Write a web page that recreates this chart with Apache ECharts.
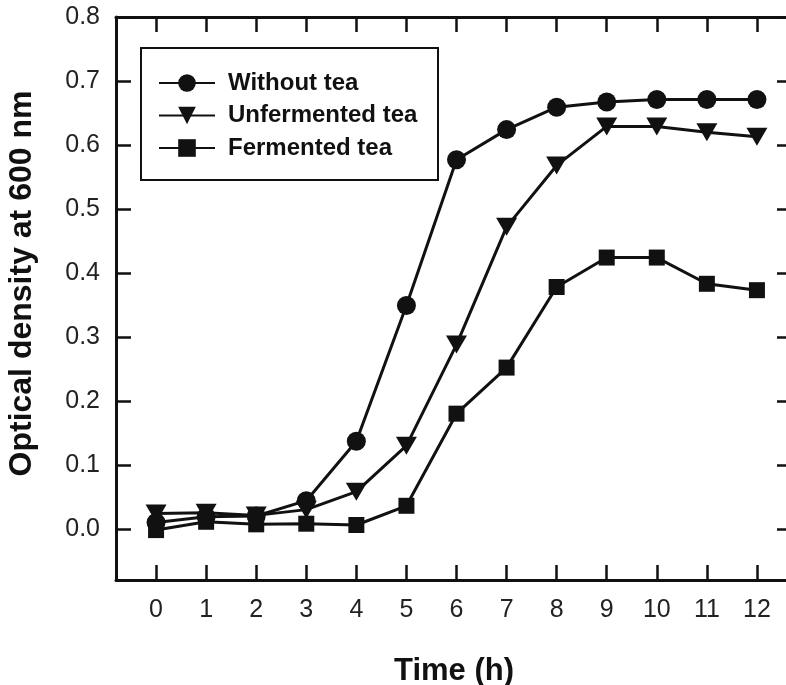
<!DOCTYPE html>
<html>
<head>
<meta charset="utf-8">
<script src="https://cdn.jsdelivr.net/npm/echarts@6/dist/echarts.min.js"></script>
<style>
  html, body { margin: 0; padding: 0; background: #fff; }
  #chart { width: 786px; height: 685px; }
</style>
</head>
<body>
<div id="chart"></div>
<script>
// Growth curves: optical density at 600 nm over time
const timeHours = [0, 1, 2, 3, 4, 5, 6, 7, 8, 9, 10, 11, 12];
const withoutTea = [0.010, 0.019, 0.020, 0.044, 0.137, 0.349, 0.577, 0.624, 0.659, 0.667, 0.671, 0.671, 0.671];
const unfermentedTea = [0.024, 0.025, 0.021, 0.030, 0.058, 0.130, 0.288, 0.472, 0.568, 0.629, 0.629, 0.620, 0.613];
const fermentedTea = [-0.002, 0.011, 0.007, 0.008, 0.006, 0.036, 0.180, 0.252, 0.378, 0.424, 0.424, 0.383, 0.373];
const xTicks = [0, 1, 2, 3, 4, 5, 6, 7, 8, 9, 10, 11, 12];
const yTicks = [0.0, 0.1, 0.2, 0.3, 0.4, 0.5, 0.6, 0.7, 0.8];

const seriesNames = ['Without tea', 'Unfermented tea', 'Fermented tea'];

const INK = '#111';
const FONT = '"Liberation Sans", Arial, Helvetica, sans-serif';

const toPairs = (ys) => timeHours.map((t, i) => [t, ys[i]]);

const axisLineStyle = { show: true, onZero: false, lineStyle: { color: INK, width: 3 } };
const tickStyle = (vals) => ({
  show: true, inside: true, length: 15, customValues: vals,
  lineStyle: { color: INK, width: 2.5 }
});

const chart = echarts.init(document.getElementById('chart'), null, { renderer: 'canvas' });

const lineSeries = (name, ys, symbol, size, rotate) => ({
  name: name,
  type: 'line',
  data: toPairs(ys),
  symbol: symbol,
  symbolSize: size,
  symbolRotate: rotate || 0,
  showAllSymbol: true,
  lineStyle: { color: INK, width: 3 },
  itemStyle: { color: INK, borderWidth: 0 },
  emphasis: { disabled: true },
  z: 3
});

chart.setOption({
  animation: false,
  backgroundColor: '#fff',
  textStyle: { fontFamily: FONT },
  grid: {
    left: 116, top: 17, right: -6, bottom: 105,
    containLabel: false, outerBoundsMode: 'none'
  },
  xAxis: [
    {
      type: 'value', position: 'bottom', min: -0.8, max: 12.7,
      name: 'Time (h)', nameLocation: 'middle', nameGap: 76,
      nameTextStyle: { fontFamily: FONT, fontSize: 31, fontWeight: 'bold', color: INK },
      axisLine: axisLineStyle,
      axisTick: tickStyle(xTicks),
      axisLabel: { customValues: xTicks, fontFamily: FONT, fontSize: 25, color: '#222', margin: 18 },
      splitLine: { show: false }
    },
    {
      type: 'value', position: 'top', min: -0.8, max: 12.7,
      axisLine: axisLineStyle,
      axisTick: tickStyle(xTicks),
      axisLabel: { show: false },
      splitLine: { show: false }
    }
  ],
  yAxis: [
    {
      type: 'value', position: 'left', min: -0.08, max: 0.8,
      name: 'Optical density at 600 nm', nameLocation: 'middle', nameGap: 78, nameRotate: 90,
      nameTextStyle: {
        fontFamily: FONT, fontSize: 32, fontWeight: 'bold', color: INK,
        padding: [0, 0, 0, 30]
      },
      axisLine: axisLineStyle,
      axisTick: tickStyle(yTicks),
      axisLabel: {
        customValues: yTicks, fontFamily: FONT, fontSize: 25, color: '#222', margin: 16,
        formatter: (v) => v.toFixed(1)
      },
      splitLine: { show: false }
    },
    {
      type: 'value', position: 'right', min: -0.08, max: 0.8,
      axisLine: axisLineStyle,
      axisTick: tickStyle(yTicks),
      axisLabel: { show: false },
      splitLine: { show: false }
    }
  ],
  legend: {
    orient: 'vertical',
    left: 158, top: 71,
    padding: 0,
    itemWidth: 56, itemHeight: 22, itemGap: 8.5,
    data: seriesNames,
    selectedMode: false,
    textStyle: { fontFamily: FONT, fontSize: 24, fontWeight: 'bold', color: INK, padding: [0, 0, 0, 8], lineHeight: 20 }
  },
  graphic: [
    {
      type: 'rect', left: 140, top: 47, z: 0,
      shape: { width: 297, height: 132 },
      style: { fill: '#fff', stroke: INK, lineWidth: 2 }
    }
  ],
  series: [
    lineSeries(seriesNames[0], withoutTea, 'circle', 19),
    lineSeries(seriesNames[1], unfermentedTea, 'triangle', [21, 18], 180),
    lineSeries(seriesNames[2], fermentedTea, 'rect', 16)
  ]
});
</script>
</body>
</html>
